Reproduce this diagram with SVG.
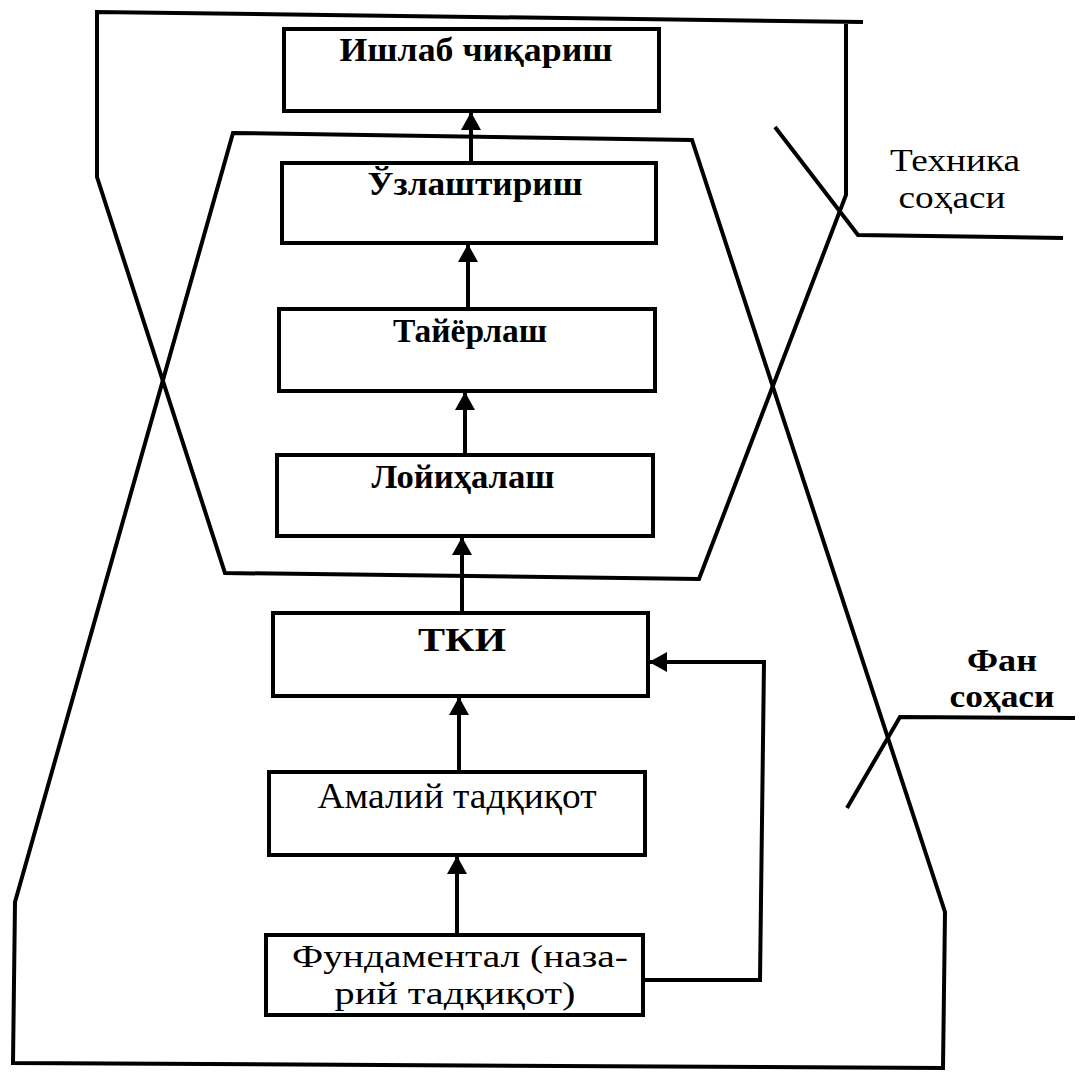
<svg xmlns="http://www.w3.org/2000/svg" width="1083" height="1077" viewBox="0 0 1083 1077">
<style>
.bx{fill:none;stroke:#000;stroke-width:4}
.ln{fill:none;stroke:#000;stroke-width:4;stroke-linejoin:miter}
.t{font-family:"Liberation Serif","Times New Roman",serif;font-size:36px;fill:#000;text-anchor:middle}
.b{font-weight:bold;font-size:34px}
.s{font-size:31px}
</style>
<defs>
<marker id="ah" markerWidth="18" markerHeight="20" refX="17" refY="10" orient="auto" markerUnits="userSpaceOnUse">
<path d="M0,0 L18,10 L0,20 Z" fill="#000"/>
</marker>
</defs>
<rect width="1083" height="1077" fill="#fff"/>
<g id="areas">
<path class="ln" d="M863,22 L97,12 L97,177 L225,573 L699,579 L846,195 L846,22"/>
<path class="ln" d="M233,133 L692,140 L945,912 L943,1068 L13,1063 L15,902 Z"/>
<path class="ln" d="M775,127 L858,235 L1063,238"/>
<path class="ln" d="M847,808 L900,717 L1075,718"/>
</g>
<g id="label-tech">
<text class="t s" x="955" y="171" textLength="130" lengthAdjust="spacingAndGlyphs">Техника</text>
<text class="t s" x="952" y="208" textLength="107" lengthAdjust="spacingAndGlyphs">соҳаси</text>
</g>
<g id="label-fan">
<text class="t b s" x="1002" y="671" textLength="70" lengthAdjust="spacingAndGlyphs">Фан</text>
<text class="t b s" x="1002" y="707" textLength="105" lengthAdjust="spacingAndGlyphs">соҳаси</text>
</g>
<g id="n1"><rect class="bx" x="284" y="29" width="375" height="82"/><text class="t b" x="476" y="61" textLength="273" lengthAdjust="spacingAndGlyphs">Ишлаб чиқариш</text></g>
<g id="n2"><rect class="bx" x="282" y="163" width="374" height="80"/><text class="t b" x="475" y="195" textLength="215" lengthAdjust="spacingAndGlyphs">Ўзлаштириш</text></g>
<g id="n3"><rect class="bx" x="279" y="309" width="376" height="82"/><text class="t b" x="470" y="342" textLength="154" lengthAdjust="spacingAndGlyphs">Тайёрлаш</text></g>
<g id="n4"><rect class="bx" x="277" y="455" width="376" height="81"/><text class="t b" x="463" y="488" textLength="183" lengthAdjust="spacingAndGlyphs">Лойиҳалаш</text></g>
<g id="n5"><rect class="bx" x="273" y="613" width="375" height="83"/><text class="t b" x="462" y="651" textLength="88" lengthAdjust="spacingAndGlyphs">ТКИ</text></g>
<g id="n6"><rect class="bx" x="269" y="772" width="376" height="83"/><text class="t" x="457" y="808" textLength="279" lengthAdjust="spacingAndGlyphs">Амалий тадқиқот</text></g>
<g id="n7"><rect class="bx" x="266" y="935" width="377" height="80"/><text class="t s" x="460" y="967" textLength="336" lengthAdjust="spacingAndGlyphs">Фундаментал (наза-</text><text class="t s" x="455" y="1004" textLength="241" lengthAdjust="spacingAndGlyphs">рий  тадқиқот)</text></g>
<g id="connectors">
<line class="ln" x1="471" y1="163" x2="471" y2="113" marker-end="url(#ah)"/>
<line class="ln" x1="468" y1="309" x2="468" y2="245" marker-end="url(#ah)"/>
<line class="ln" x1="465" y1="455" x2="465" y2="393" marker-end="url(#ah)"/>
<line class="ln" x1="462" y1="613" x2="462" y2="538" marker-end="url(#ah)"/>
<line class="ln" x1="459" y1="772" x2="459" y2="698" marker-end="url(#ah)"/>
<line class="ln" x1="457" y1="935" x2="457" y2="857" marker-end="url(#ah)"/>
<path class="ln" d="M643,980 L760,980 L764,662 L650,662" marker-end="url(#ah)"/>
</g>
</svg>
